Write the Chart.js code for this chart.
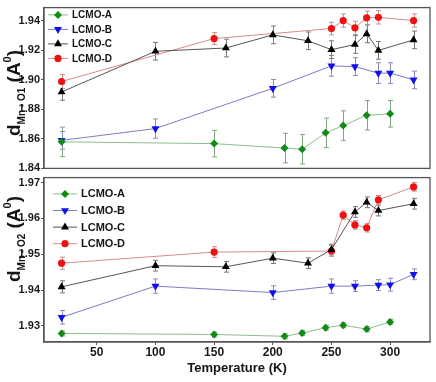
<!DOCTYPE html>
<html><head><meta charset="utf-8">
<script src="https://cdn.jsdelivr.net/npm/chart.js@4.4.1/dist/chart.umd.min.js"></script>
<style>
html,body{margin:0;padding:0;background:#fff;}
#wrap{position:relative;width:436px;height:382px;overflow:hidden;background:#fff;}
canvas{position:absolute;left:0;}
#c1{top:0;} #c2{top:170px;}
</style></head><body>
<div id="wrap"><canvas id="c1" width="436" height="176"></canvas><canvas id="c2" width="436" height="212"></canvas></div>
<script>
// ---------- DATA ----------
const seriesNames = ['LCMO-A', 'LCMO-B', 'LCMO-C', 'LCMO-D'];
const tempA = [20, 150, 210, 225, 245, 260, 280, 300];
const tempB = [20, 100, 200, 250, 270, 290, 300, 320];
const tempC = [20, 100, 160, 200, 230, 250, 270, 280, 290, 320];
const tempD = [20, 150, 250, 260, 270, 280, 290, 320];

// d(Mn-O1)
const o1A = [1.858, 1.8568, 1.8538, 1.853, 1.8641, 1.869, 1.876, 1.877];
const o1AErr = [0.010, 0.009, 0.010, 0.010, 0.010, 0.010, 0.010, 0.009];
const o1B = [1.859, 1.867, 1.8943, 1.9095, 1.909, 1.9046, 1.9046, 1.900];
const o1BErr = [0.006, 0.0065, 0.006, 0.007, 0.006, 0.007, 0.007, 0.006];
const o1C = [1.8918, 1.9194, 1.9216, 1.9305, 1.9265, 1.9205, 1.924, 1.9312, 1.920, 1.9271];
const o1CErr = [0.0056, 0.006, 0.006, 0.006, 0.006, 0.006, 0.006, 0.006, 0.006, 0.006];
const o1D = [1.8989, 1.928, 1.9348, 1.9402, 1.9353, 1.9421, 1.9424, 1.9402];
const o1DErr = [0.0047, 0.004, 0.0043, 0.0045, 0.0045, 0.0045, 0.0045, 0.0045];

// d(Mn-O2)
const o2A = [1.9279, 1.9276, 1.9271, 1.928, 1.9295, 1.9302, 1.9291, 1.9311];
const o2AErr = [0.0007, 0.0007, 0.0007, 0.0007, 0.0007, 0.0007, 0.0007, 0.0007];
const o2B = [1.9324, 1.9411, 1.9393, 1.9411, 1.9411, 1.9414, 1.9415, 1.9444];
const o2BErr = [0.0019, 0.002, 0.0019, 0.002, 0.0015, 0.0015, 0.0018, 0.0015];
const o2C = [1.9409, 1.9468, 1.9465, 1.9489, 1.9475, 1.9513, 1.9618, 1.9645, 1.9622, 1.9641];
const o2CErr = [0.0017, 0.0015, 0.0015, 0.0015, 0.0015, 0.0015, 0.0015, 0.0015, 0.0015, 0.0015];
const o2D = [1.9475, 1.9506, 1.9509, 1.9609, 1.9582, 1.9574, 1.9652, 1.9688];
const o2DErr = [0.0017, 0.0015, 0.0015, 0.0012, 0.0012, 0.0012, 0.0012, 0.0012];

const tempTicks = [50, 100, 150, 200, 250, 300];
const o1Ticks = [1.84, 1.86, 1.88, 1.90, 1.92, 1.94];
const o2Ticks = [1.93, 1.94, 1.95, 1.96, 1.97];
const xTitle = 'Temperature (K)';
const o1TitleParts = ['d', 'Mn - O1', ' (A', '0', ')'];
const o2TitleParts = ['d', 'Mn - O2', ' (A', '0', ')'];

// ---------- STYLES ----------
const SANS = "'Liberation Sans', Arial, sans-serif";
const NARROW = "'Liberation Sans Narrow', 'Liberation Sans', Arial, sans-serif";
const styles = [
  {marker: '#138a13', line: '#8cbf8c', err: '#7fa77f', shape: 'rectRot', rot: 0, r: 4},
  {marker: '#1010ee', line: '#7c7cc8', err: '#8a8ab8', shape: 'triangle', rot: 180, r: 4.6},
  {marker: '#000000', line: '#555555', err: '#777777', shape: 'triangle', rot: 0, r: 4.6},
  {marker: '#ee1111', line: '#d98a8a', err: '#c99090', shape: 'circle', rot: 0, r: 3.6}
];

function pts(xs, ys) { return xs.map((x, i) => ({x: x, y: ys[i]})); }
function makeDatasets(vals, errs) {
  const temps = [tempA, tempB, tempC, tempD];
  return vals.map((v, i) => ({
    label: seriesNames[i],
    data: pts(temps[i], v),
    errors: errs[i],
    errColor: styles[i].err,
    borderColor: styles[i].line,
    borderWidth: 1,
    backgroundColor: styles[i].marker,
    pointStyle: styles[i].shape,
    pointRotation: styles[i].rot,
    pointRadius: styles[i].r,
    pointBackgroundColor: styles[i].marker,
    pointBorderColor: styles[i].marker,
    pointBorderWidth: 0,
    fill: false,
    tension: 0
  }));
}

function drawMarker(ctx, shape, rot, x, y, r, color) {
  ctx.save();
  ctx.translate(x, y);
  ctx.rotate(rot * Math.PI / 180);
  ctx.fillStyle = color;
  ctx.beginPath();
  if (shape === 'circle') {
    ctx.arc(0, 0, r, 0, Math.PI * 2);
  } else if (shape === 'rectRot') {
    ctx.moveTo(0, -r); ctx.lineTo(r, 0); ctx.lineTo(0, r); ctx.lineTo(-r, 0); ctx.closePath();
  } else {
    const s = Math.sqrt(3) / 2;
    ctx.moveTo(0, -r); ctx.lineTo(r * s, r / 2); ctx.lineTo(-r * s, r / 2); ctx.closePath();
  }
  ctx.fill();
  ctx.restore();
}

const errorBars = {
  id: 'errorBars',
  beforeDatasetsDraw(chart) {
    const ctx = chart.ctx, ys = chart.scales.y;
    chart.data.datasets.forEach((ds, i) => {
      const meta = chart.getDatasetMeta(i);
      ctx.save();
      ctx.strokeStyle = ds.errColor;
      ctx.lineWidth = 1;
      meta.data.forEach((pt, j) => {
        const v = ds.data[j].y, e = ds.errors[j];
        const x = Math.round(pt.x) + 0.5;
        const y1 = ys.getPixelForValue(v + e), y2 = ys.getPixelForValue(v - e);
        ctx.beginPath();
        ctx.moveTo(x, y1); ctx.lineTo(x, y2);
        ctx.moveTo(x - 2.5, y1); ctx.lineTo(x + 2.5, y1);
        ctx.moveTo(x - 2.5, y2); ctx.lineTo(x + 2.5, y2);
        ctx.stroke();
      });
      ctx.restore();
    });
  }
};

const frame = {
  id: 'frame',
  afterDraw(chart) {
    const ctx = chart.ctx, ca = chart.chartArea;
    ctx.save();
    ctx.strokeStyle = '#555';
    ctx.lineWidth = 1.3;
    ctx.strokeRect(ca.left, ca.top, ca.right - ca.left, ca.bottom - ca.top);
    ctx.restore();
  }
};

const inLegend = {
  id: 'inLegend',
  afterDraw(chart, args, o) {
    const ctx = chart.ctx, ca = chart.chartArea;
    chart.data.datasets.forEach((ds, i) => {
      const y = ca.top + o.y0 + i * o.dy;
      const x0 = ca.left + o.x0;
      ctx.save();
      ctx.strokeStyle = ds.borderColor;
      ctx.lineWidth = 1;
      ctx.beginPath(); ctx.moveTo(x0, y); ctx.lineTo(x0 + o.len, y); ctx.stroke();
      drawMarker(ctx, ds.pointStyle, ds.pointRotation, x0 + o.len / 2, y, ds.pointRadius, ds.pointBackgroundColor);
      ctx.fillStyle = '#151515';
      ctx.font = o.font;
      ctx.textBaseline = 'middle';
      ctx.textAlign = 'left';
      ctx.fillText(ds.label, x0 + o.len + o.gap, y + 0.5);
      ctx.restore();
    });
  }
};

const yTitle = {
  id: 'yTitle',
  afterDraw(chart, args, o) {
    const ctx = chart.ctx;
    const fonts = [
      'bold 19px ' + SANS, 'bold 10px ' + SANS, 'bold 19px ' + SANS, 'bold 11px ' + SANS, 'bold 19px ' + SANS
    ];
    const dys = [0, 5, 0, -9, 0];
    ctx.save();
    ctx.translate(o.x, o.y);
    ctx.rotate(-Math.PI / 2);
    ctx.fillStyle = '#151515';
    ctx.textBaseline = 'alphabetic';
    ctx.textAlign = 'left';
    let cx = 0;
    o.parts.forEach((t, k) => {
      ctx.font = fonts[k];
      ctx.fillText(t, cx, dys[k]);
      cx += ctx.measureText(t).width;
    });
    ctx.restore();
  }
};

function yScale(ticks, min, max, size) {
  return {
    type: 'linear', min: min, max: max,
    afterBuildTicks: (s) => { s.ticks = ticks.map(v => ({value: v})); },
    afterFit: (s) => { s.width = 44; },
    grid: {drawOnChartArea: false, drawTicks: true, tickLength: 3, color: '#555'},
    border: {display: true, color: '#555', width: 1.3},
    ticks: {
      padding: 1, color: '#1a1a1a',
      font: {family: NARROW, size: size, weight: 'bold'},
      callback: (v) => Number(v).toFixed(2)
    }
  };
}

const xMin = 5, xMax = 334;

new Chart(document.getElementById('c1'), {
  type: 'line',
  data: {datasets: makeDatasets([o1A, o1B, o1C, o1D], [o1AErr, o1BErr, o1CErr, o1DErr])},
  options: {
    responsive: false, animation: false, devicePixelRatio: 1,
    layout: {padding: {top: 2, bottom: 5, left: 0, right: 6}},
    plugins: {
      legend: {display: false}, tooltip: {enabled: false},
      inLegend: {x0: 4, y0: 7.3, dy: 14.5, len: 20, gap: 4, font: 'bold 10px ' + SANS},
      yTitle: {x: 20, y: 136, parts: o1TitleParts}
    },
    scales: {
      x: {type: 'linear', min: xMin, max: xMax, display: false},
      y: yScale(o1Ticks, 1.84, 1.949, 11)
    }
  },
  plugins: [errorBars, frame, inLegend, yTitle]
});

new Chart(document.getElementById('c2'), {
  type: 'line',
  data: {datasets: makeDatasets([o2A, o2B, o2C, o2D], [o2AErr, o2BErr, o2CErr, o2DErr])},
  options: {
    responsive: false, animation: false, devicePixelRatio: 1,
    layout: {padding: {top: 2, bottom: 0, left: 0, right: 6}},
    plugins: {
      legend: {display: false}, tooltip: {enabled: false},
      inLegend: {x0: 9, y0: 16.3, dy: 16.6, len: 24, gap: 4, font: 'bold 11px ' + SANS},
      yTitle: {x: 20, y: 112, parts: o2TitleParts}
    },
    scales: {
      x: {
        type: 'linear', min: xMin, max: xMax,
        afterBuildTicks: (s) => { s.ticks = tempTicks.map(v => ({value: v})); },
        afterFit: (s) => { s.height = 40; },
        grid: {drawOnChartArea: false, drawTicks: true, tickLength: 3, color: '#555'},
        border: {display: true, color: '#555', width: 1.3},
        ticks: {padding: 0, color: '#1a1a1a', maxRotation: 0, font: {family: NARROW, size: 12, weight: 'bold'}},
        title: {display: true, text: xTitle, color: '#151515', padding: {top: 0, bottom: 6}, font: {family: SANS, size: 13, weight: 'bold'}}
      },
      y: yScale(o2Ticks, 1.9255, 1.9714, 11)
    }
  },
  plugins: [errorBars, frame, inLegend, yTitle]
});
</script>
</body></html>
